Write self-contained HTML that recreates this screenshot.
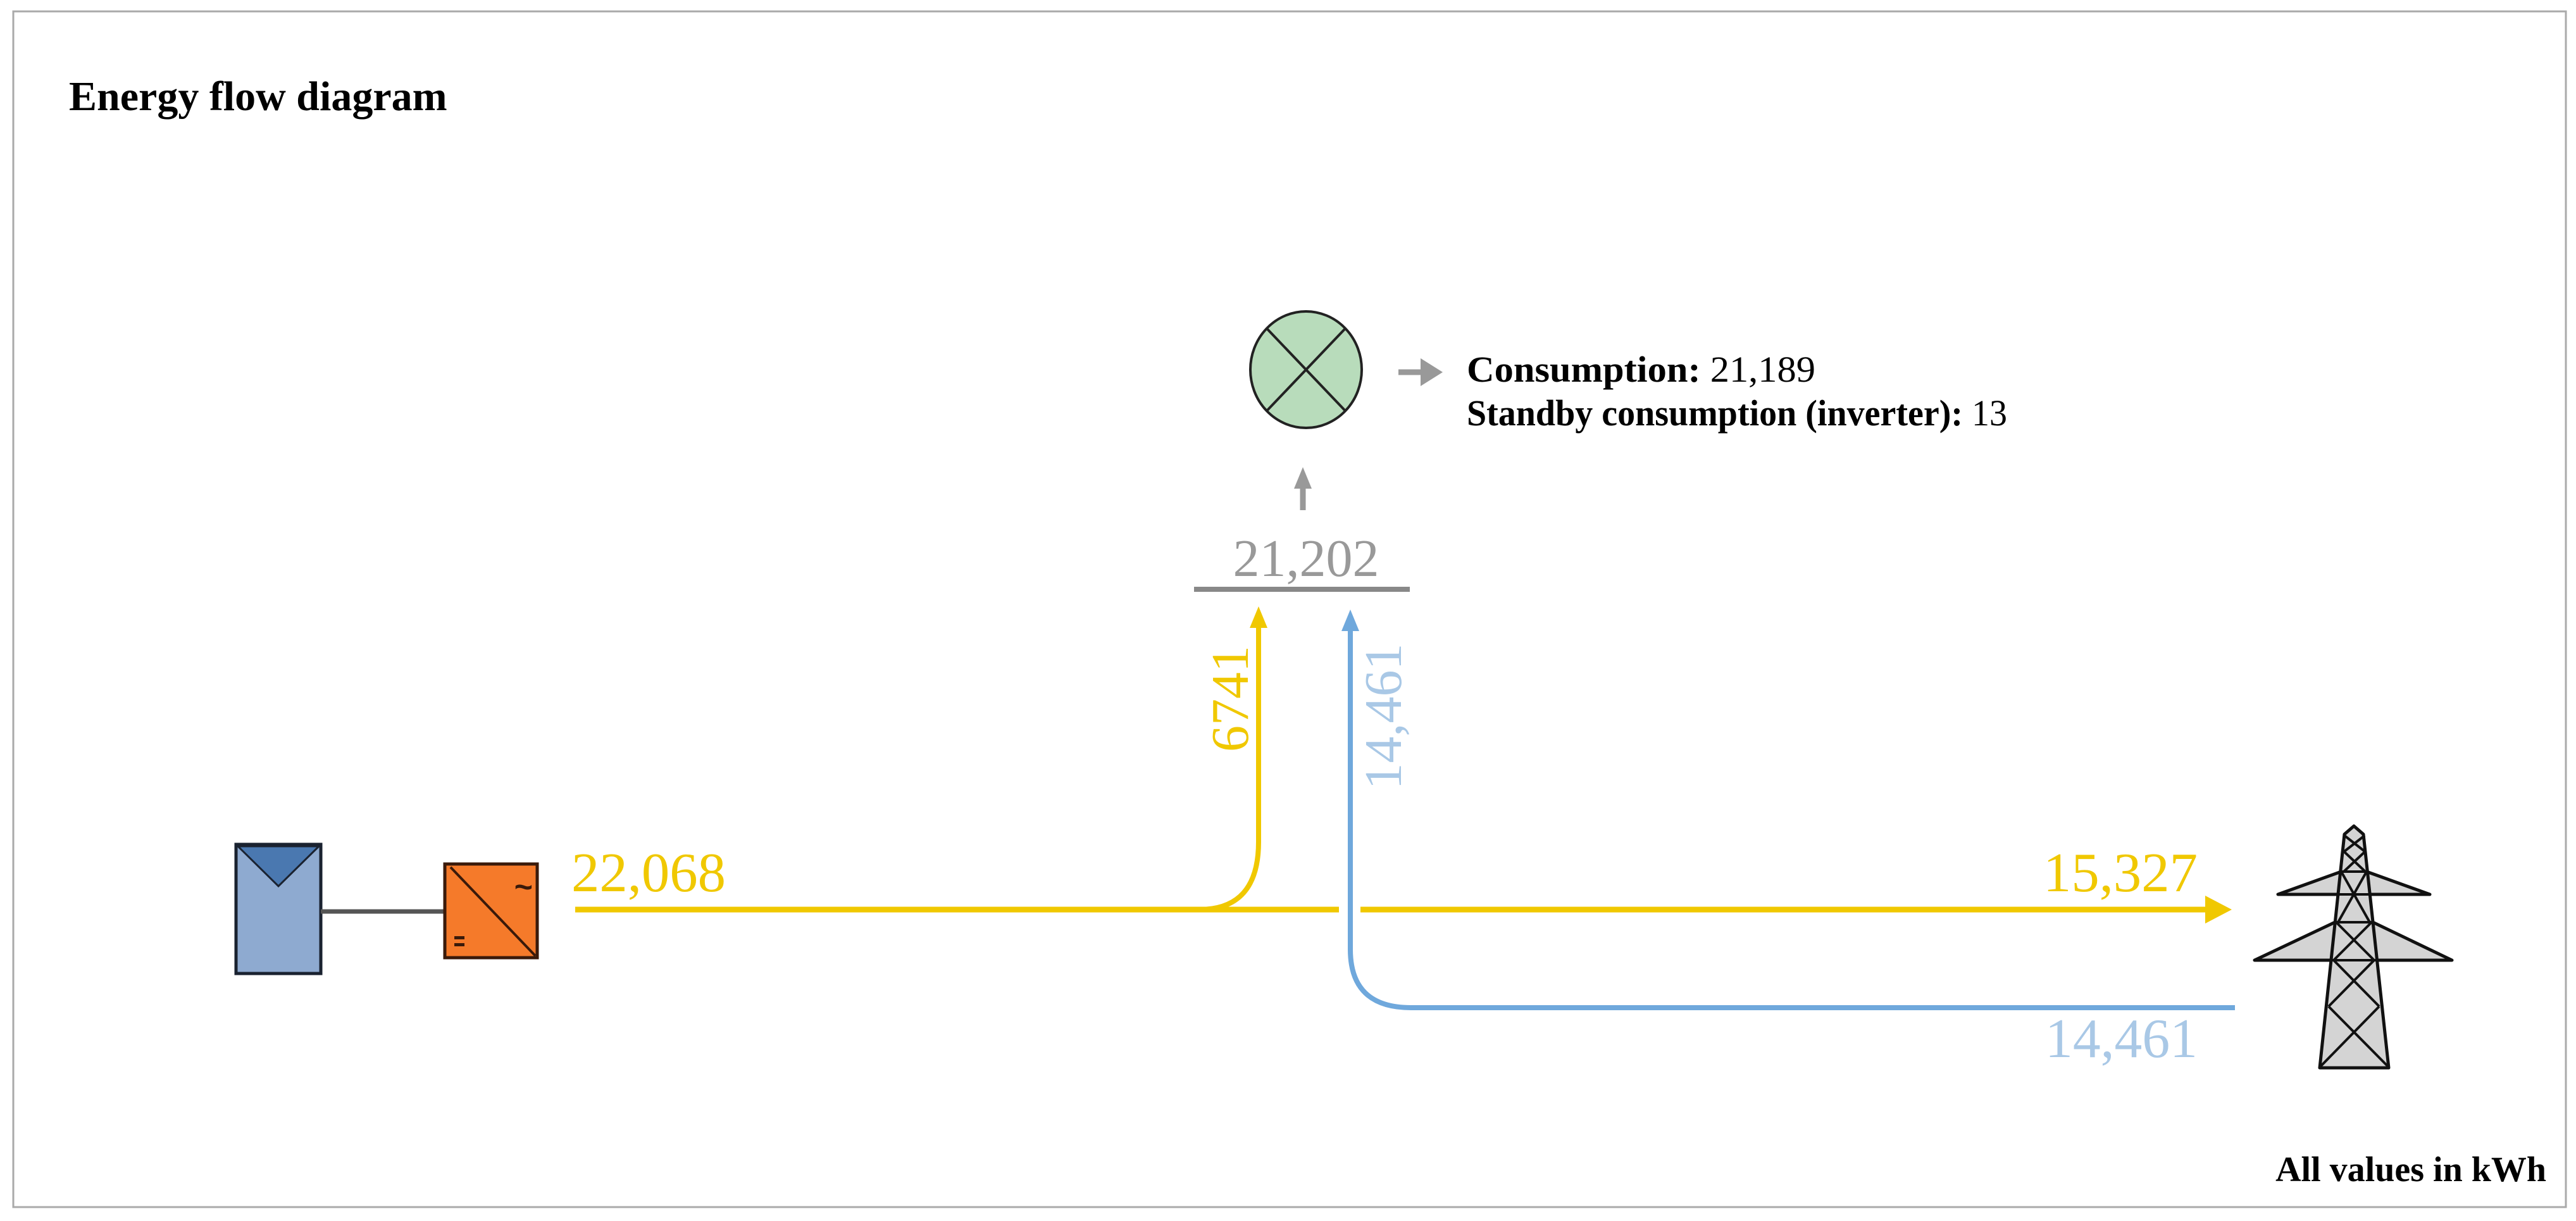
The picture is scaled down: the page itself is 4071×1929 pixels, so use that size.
<!DOCTYPE html>
<html><head><meta charset="utf-8"><style>
html,body{margin:0;padding:0;background:#fff;}
svg{display:block;}
</style></head><body>
<svg width="4071" height="1929" viewBox="0 0 4071 1929" xmlns="http://www.w3.org/2000/svg">
<rect x="0" y="0" width="4071" height="1929" fill="#fff"/>
<rect x="21" y="18" width="4034" height="1889" fill="none" stroke="#aaa" stroke-width="3"/>
<text x="109" y="174" font-family="Liberation Serif, serif" font-weight="bold" font-size="66" fill="#000">Energy flow diagram</text>

<!-- consumer -->
<ellipse cx="2064" cy="584" rx="88" ry="92" fill="#b8dcbb" stroke="#222" stroke-width="4"/>
<line x1="2002" y1="519" x2="2126" y2="649" stroke="#222" stroke-width="4"/>
<line x1="2126" y1="519" x2="2002" y2="649" stroke="#222" stroke-width="4"/>
<line x1="2210" y1="588" x2="2250" y2="588" stroke="#999" stroke-width="9"/>
<polygon points="2245,566 2280,588 2245,610" fill="#999"/>
<text x="2318" y="603" font-family="Liberation Serif, serif" font-size="58" fill="#000" textLength="551" lengthAdjust="spacingAndGlyphs"><tspan font-weight="bold">Consumption:</tspan> 21,189</text>
<text x="2318" y="672" font-family="Liberation Serif, serif" font-size="58" fill="#000" textLength="854" lengthAdjust="spacingAndGlyphs"><tspan font-weight="bold">Standby consumption (inverter):</tspan> 13</text>

<line x1="2059" y1="770" x2="2059" y2="806" stroke="#999" stroke-width="9"/>
<polygon points="2045,772 2059,738 2073,772" fill="#999"/>
<text x="2064" y="910" text-anchor="middle" font-family="Liberation Serif, serif" font-size="84" fill="#999">21,202</text>
<line x1="1887" y1="931" x2="2228" y2="931" stroke="#888" stroke-width="8"/>

<!-- yellow flows -->
<line x1="909" y1="1437" x2="2116" y2="1437" stroke="#f0c800" stroke-width="9"/>
<line x1="2150" y1="1437" x2="3490" y2="1437" stroke="#f0c800" stroke-width="9"/>
<polygon points="3485,1415 3527,1437 3485,1459" fill="#f0c800"/>
<path d="M1895,1437 Q1989,1437 1989,1330 L1989,990" fill="none" stroke="#f0c800" stroke-width="8"/>
<polygon points="1975,992 1989,958 2003,992" fill="#f0c800"/>

<!-- blue flow -->
<path d="M3532,1592 L2230,1592 Q2134,1592 2134,1500 L2134,995" fill="none" stroke="#6fa8dc" stroke-width="8"/>
<polygon points="2120,997 2134,963 2148,997" fill="#6fa8dc"/>

<text transform="translate(1972,1104) rotate(-90)" text-anchor="middle" font-family="Liberation Serif, serif" font-size="84" fill="#f0c800">6741</text>
<text transform="translate(2214,1132) rotate(-90)" text-anchor="middle" font-family="Liberation Serif, serif" font-size="84" fill="#a9c8e6">14,461</text>

<text x="903" y="1408" font-family="Liberation Serif, serif" font-size="88" fill="#f0c800" textLength="244" lengthAdjust="spacingAndGlyphs">22,068</text>
<text x="3229" y="1408" font-family="Liberation Serif, serif" font-size="88" fill="#f0c800" textLength="244" lengthAdjust="spacingAndGlyphs">15,327</text>
<text x="3232" y="1670" font-family="Liberation Serif, serif" font-size="88" fill="#a9c8e6" textLength="241" lengthAdjust="spacingAndGlyphs">14,461</text>

<!-- PV panel -->
<rect x="373" y="1334" width="134" height="204" fill="#8eaad0" stroke="#1a2230" stroke-width="5"/>
<polygon points="376,1337 504,1337 440,1400" fill="#4a78b0" stroke="#1a2230" stroke-width="3"/>
<line x1="507" y1="1440" x2="703" y2="1440" stroke="#555" stroke-width="7"/>
<!-- inverter -->
<rect x="703" y="1365" width="146" height="148" fill="#f57a2a" stroke="#3a1a0a" stroke-width="5"/>
<line x1="712" y1="1370" x2="846" y2="1510" stroke="#3a1a0a" stroke-width="4"/>
<text x="842" y="1418" text-anchor="end" font-family="Liberation Sans, sans-serif" font-weight="bold" font-size="50" fill="#3a1a0a">~</text>
<rect x="718" y="1479" width="16" height="5" fill="#3a1a0a"/>
<rect x="718" y="1490" width="16" height="5" fill="#3a1a0a"/>

<!-- tower -->
<g stroke="#111" stroke-width="5" fill="#d4d4d4" stroke-linejoin="round">
<polygon points="3600,1413 3700,1377 3740,1377 3840,1413"/>
<polygon points="3563,1517 3690,1457 3750,1457 3875,1517"/>
<polygon points="3720,1305 3735,1318 3775,1687 3666,1687 3705,1318"/>
</g>
<g stroke="#111" stroke-width="4" fill="none">
<line x1="3600" y1="1413" x2="3840" y2="1413"/>
<line x1="3563" y1="1517" x2="3875" y2="1517"/>
<line x1="3700" y1="1377" x2="3740" y2="1377"/>
<line x1="3690" y1="1457" x2="3750" y2="1457"/>
<path d="M3705,1320 L3737,1345 M3737,1320 L3705,1345 M3704,1345 L3738,1377 M3738,1345 L3704,1377"/>
<path d="M3700,1377 L3745,1457 M3740,1377 L3695,1457"/>
<path d="M3692,1457 L3752,1517 M3748,1457 L3688,1517"/>
<path d="M3688,1517 L3760,1590 M3752,1517 L3680,1590"/>
<path d="M3680,1590 L3773,1684 M3760,1590 L3668,1684"/>
</g>

<text x="4024" y="1866" text-anchor="end" font-family="Liberation Serif, serif" font-weight="bold" font-size="56" fill="#000">All values in kWh</text>
</svg>
</body></html>
